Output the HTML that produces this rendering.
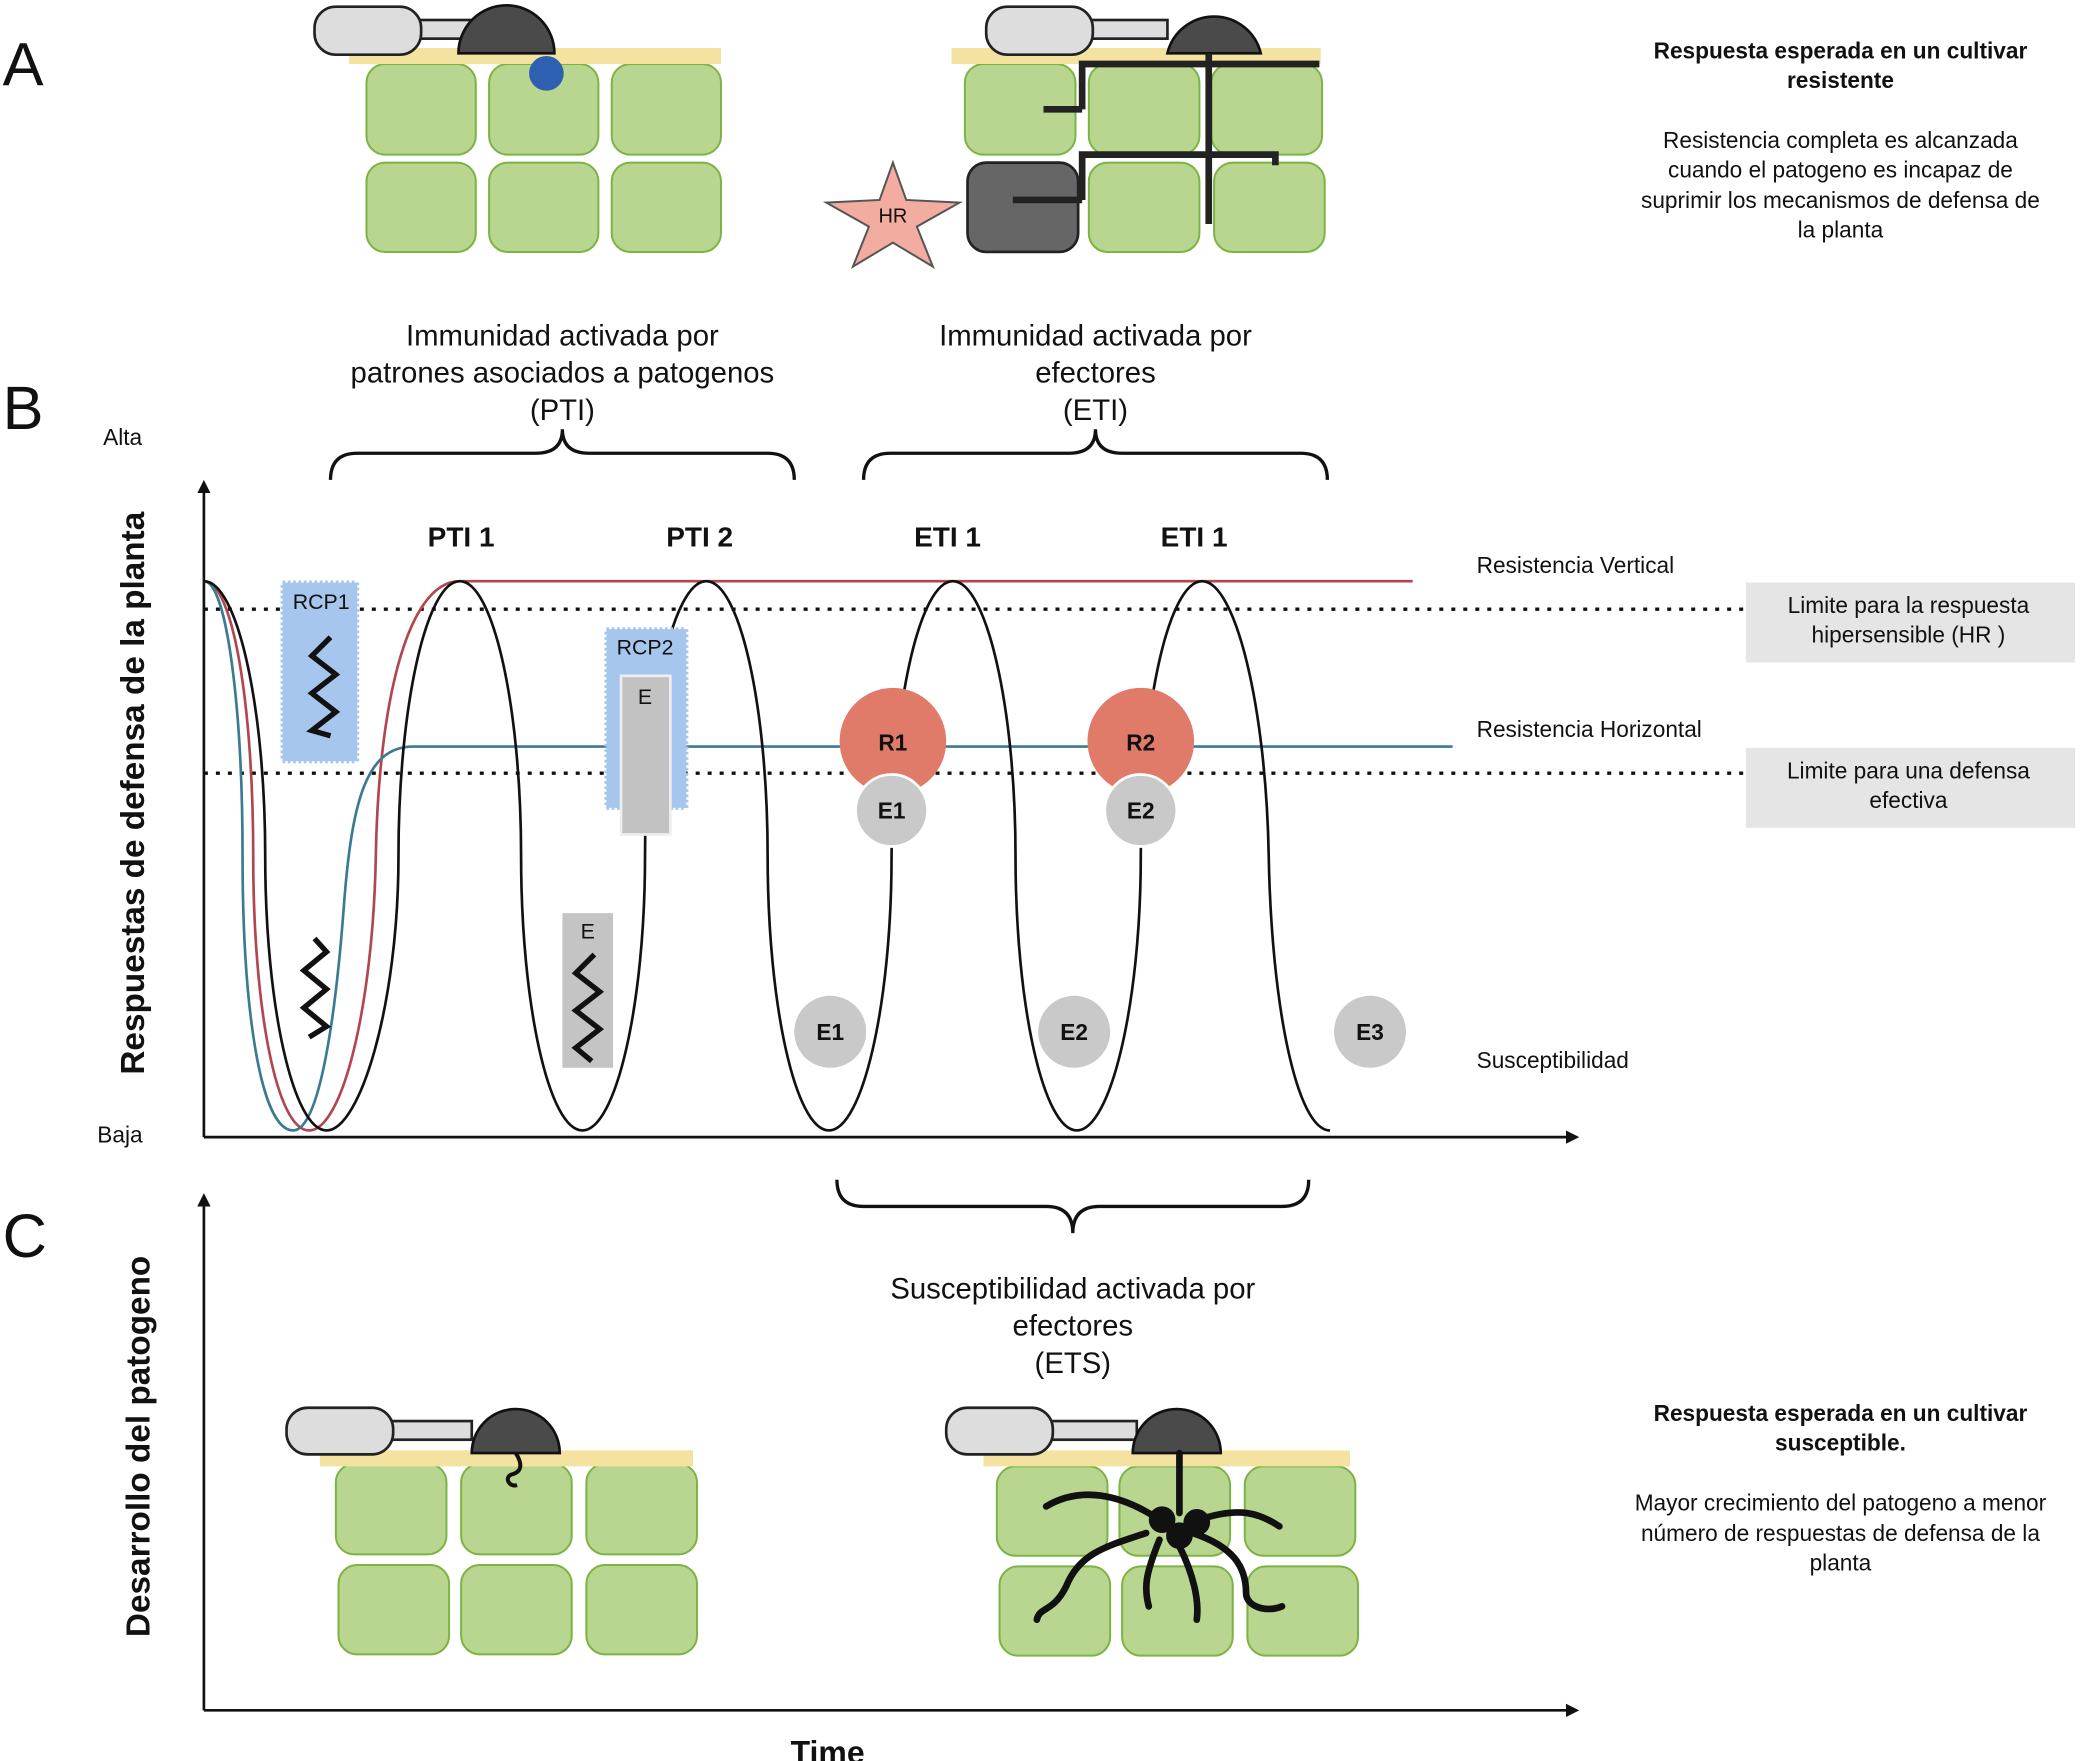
<!DOCTYPE html>
<html><head><meta charset="utf-8"><style>
html,body{margin:0;padding:0;background:#fff;width:2083px;height:1761px;overflow:hidden}
svg{display:block}
text{font-family:"Liberation Sans Narrow","Liberation Sans",sans-serif;fill:#111}
.b{font-weight:bold}
.w{font-family:"Liberation Sans",sans-serif}
</style></head><body>
<svg width="2083" height="1761" viewBox="0 0 1563 1321" preserveAspectRatio="none" xmlns="http://www.w3.org/2000/svg">
<defs>
<marker id="ar" markerWidth="10" markerHeight="10" refX="8" refY="5" orient="auto" markerUnits="userSpaceOnUse"><path d="M0,0 L10,5 L0,10 z" fill="#111"/></marker>
</defs>

<text x="2" y="64" class="w" font-size="46">A</text>
<text x="2" y="322" class="w" font-size="46">B</text>
<text x="2" y="943" class="w" font-size="46">C</text>

<!-- ===== A left ===== -->
<g stroke="#7cb342" stroke-width="1.5" fill="#b8d690">
<rect x="275" y="48" width="82" height="68" rx="14"/><rect x="367" y="48" width="82" height="68" rx="14"/><rect x="459" y="48" width="82" height="68" rx="14"/>
<rect x="275" y="122" width="82" height="67" rx="14"/><rect x="367" y="122" width="82" height="67" rx="14"/><rect x="459" y="122" width="82" height="67" rx="14"/>
</g>
<rect x="262" y="36" width="279" height="12" fill="#f3e2a0"/>
<rect x="300" y="15" width="60" height="14" fill="#ddd" stroke="#222" stroke-width="2"/>
<rect x="236" y="5" width="80" height="36" rx="16" fill="#ddd" stroke="#222" stroke-width="2"/>
<path d="M344 40 A36 36 0 0 1 416 40 Z" fill="#4a4a4a" stroke="#111" stroke-width="2"/>
<ellipse cx="410" cy="55" rx="13" ry="13" fill="#2e5fb0"/>

<!-- ===== A right ===== -->
<g stroke="#7cb342" stroke-width="1.5" fill="#b8d690">
<rect x="724" y="48" width="83" height="68" rx="14"/><rect x="817" y="48" width="83" height="68" rx="14"/><rect x="909" y="48" width="83" height="68" rx="14"/>
<rect x="817" y="122" width="83" height="67" rx="14"/><rect x="911" y="122" width="83" height="67" rx="14"/>
</g>
<rect x="726" y="122" width="83" height="67" rx="14" fill="#666" stroke="#222" stroke-width="2"/>
<rect x="714" y="36" width="277" height="12" fill="#f3e2a0"/>
<rect x="800" y="15" width="76" height="14" fill="#ddd" stroke="#222" stroke-width="2"/>
<rect x="740" y="5" width="80" height="36" rx="16" fill="#ddd" stroke="#222" stroke-width="2"/>
<path d="M876 40 A36 36 0 0 1 946 40 Z" fill="#4a4a4a" stroke="#111" stroke-width="2"/>
<g stroke="#222" stroke-width="5" fill="none">
<path d="M907 40 V168"/><path d="M812 82 V48 H990"/><path d="M783 82 H812"/>
<path d="M812 150 V116 H957 V124"/><path d="M760 150 H812"/>
</g>
<polygon points="670,122 680,150 720,152 688,170 700,200 670,182 640,200 652,170 620,152 660,150" fill="#f2aca0" stroke="#555" stroke-width="1.5"/>
<text x="670" y="167" font-size="15" text-anchor="middle" fill="#555">HR</text>

<g text-anchor="middle" font-size="17">
<text x="1381" y="44" class="b">Respuesta esperada en un cultivar</text>
<text x="1381" y="66" class="b">resistente</text>
<text x="1381" y="111">Resistencia completa es alcanzada</text>
<text x="1381" y="133">cuando el patogeno es incapaz de</text>
<text x="1381" y="156">suprimir los mecanismos de defensa de</text>
<text x="1381" y="178">la planta</text>
</g>

<!-- ===== B headings ===== -->
<g text-anchor="middle" font-size="22">
<text x="422" y="259">Immunidad activada por</text>
<text x="422" y="287">patrones asociados a patogenos</text>
<text x="422" y="315">(PTI)</text>
<text x="822" y="259">Immunidad activada por</text>
<text x="822" y="287">efectores</text>
<text x="822" y="315">(ETI)</text>
<text x="805" y="974">Susceptibilidad activada por</text>
<text x="805" y="1002">efectores</text>
<text x="805" y="1030">(ETS)</text>
</g>
<g fill="none" stroke="#111" stroke-width="2.5">
<path d="M248 360 Q248 340 268 340 H402 Q422 340 422 322 Q422 340 442 340 H576 Q596 340 596 360"/>
<path d="M648 360 Q648 340 668 340 H802 Q822 340 822 322 Q822 340 842 340 H976 Q996 340 996 360"/>
<path d="M628 885 Q628 905 648 905 H785 Q805 905 805 925 Q805 905 825 905 H962 Q982 905 982 885"/>
</g>

<text x="92" y="334" font-size="17" text-anchor="middle">Alta</text>
<text x="90" y="857" font-size="17" text-anchor="middle">Baja</text>
<text transform="translate(108,595) rotate(-90)" text-anchor="middle" font-size="25" class="b w">Respuestas de defensa de la planta</text>

<g stroke="#111" stroke-width="2" fill="none">
<path d="M153 853 V362" marker-end="url(#ar)"/>
<path d="M153 853 H1183" marker-end="url(#ar)"/>
<path d="M153 1283 V897" marker-end="url(#ar)"/>
<path d="M153 1283 H1183" marker-end="url(#ar)"/>
</g>

<g stroke="#111" stroke-width="2.5" stroke-dasharray="3 6">
<line x1="153" y1="457" x2="1310" y2="457"/>
<line x1="153" y1="580" x2="1310" y2="580"/>
</g>
<rect x="1310" y="437" width="247" height="60" fill="#e5e5e5"/>
<rect x="1310" y="561" width="247" height="60" fill="#e5e5e5"/>
<g text-anchor="middle" font-size="17" fill="#333">
<text x="1432" y="460">Limite para la respuesta</text>
<text x="1432" y="482">hipersensible (HR )</text>
<text x="1432" y="584">Limite para una defensa</text>
<text x="1432" y="606">efectiva</text>
</g>
<g font-size="17">
<text x="1108" y="430">Resistencia Vertical</text>
<text x="1108" y="553">Resistencia Horizontal</text>
<text x="1108" y="801">Susceptibilidad</text>
</g>

<!-- red & blue lines -->
<path d="M153 436 C175 436 190 530 190 642 C190 754 207 848 232 848 C257 848 280 754 282 642 C284 530 305 436 345 436 H1060" fill="none" stroke="#b0474f" stroke-width="2"/>
<path d="M153 436 C170 436 182 530 182 642 C182 754 195 848 220 848 C240 848 252 760 258 680 C264 600 275 560 310 560 H1090" fill="none" stroke="#3a7a92" stroke-width="2"/>

<path fill="none" stroke="#111" stroke-width="2"
d="M153 436 C178 436 199 530 199 642 C199 754 220 848 245 848
C270 848 299 754 299 642 C299 530 320 436 345 436
C370 436 391 530 391 642 C391 754 412 848 437 848
C462 848 484 754 484 642 C484 530 505 436 530 436
C555 436 576 530 576 642 C576 754 597 848 622 848
C647 848 669 754 669 642 C669 530 690 436 715 436
C740 436 762 530 762 642 C762 754 783 848 808 848
C833 848 856 754 856 642 C856 530 877 436 902 436
C927 436 950 530 952 642 C954 754 973 848 998 848"/>

<g font-size="21" class="b" text-anchor="middle">
<text x="346" y="410">PTI 1</text><text x="525" y="410">PTI 2</text>
<text x="711" y="410">ETI 1</text><text x="896" y="410">ETI 1</text>
</g>

<rect x="212" y="437" width="56" height="134" fill="#a7c6ee" stroke="#a7c6ee" stroke-width="3" stroke-dasharray="2 2"/>
<text x="241" y="457" font-size="16" text-anchor="middle" fill="#333">RCP1</text>
<path d="M248 478 L234 492 L252 506 L234 520 L252 534 L234 548 L248 552" fill="none" stroke="#111" stroke-width="4"/>
<path d="M236 704 L245 714 L228 728 L245 742 L228 756 L245 770 L232 778" fill="none" stroke="#111" stroke-width="4"/>
<rect x="455" y="472" width="60" height="134" fill="#a7c6ee" stroke="#a7c6ee" stroke-width="3" stroke-dasharray="2 2"/>
<text x="484" y="491" font-size="16" text-anchor="middle" fill="#333">RCP2</text>
<rect x="466" y="507" width="37" height="119" fill="#c2c2c2" stroke="#eee" stroke-width="2"/>
<text x="484" y="528" font-size="16" text-anchor="middle" fill="#333">E</text>
<rect x="422" y="685" width="38" height="116" fill="#c4c4c4"/>
<text x="441" y="704" font-size="16" text-anchor="middle" fill="#333">E</text>
<path d="M446 716 L432 730 L450 744 L432 758 L450 772 L432 786 L444 796" fill="none" stroke="#111" stroke-width="4"/>

<circle cx="670" cy="556" r="40" fill="#e07b6a"/>
<circle cx="856" cy="556" r="40" fill="#e07b6a"/>
<circle cx="669" cy="608" r="27" fill="#c9c9c9" stroke="#fff" stroke-width="2"/>
<circle cx="856" cy="608" r="27" fill="#c9c9c9" stroke="#fff" stroke-width="2"/>
<circle cx="623" cy="774" r="27" fill="#c9c9c9"/>
<circle cx="806" cy="774" r="27" fill="#c9c9c9"/>
<circle cx="1028" cy="774" r="27" fill="#c9c9c9"/>
<g font-size="17" class="b" text-anchor="middle" fill="#222">
<text x="670" y="563">R1</text><text x="856" y="563">R2</text>
<text x="669" y="614">E1</text><text x="856" y="614">E2</text>
<text x="623" y="780">E1</text><text x="806" y="780">E2</text><text x="1028" y="780">E3</text>
</g>

<!-- ===== C ===== -->
<text transform="translate(112,1085) rotate(-90)" text-anchor="middle" font-size="25" class="b w">Desarrollo del patogeno</text>
<text x="621" y="1323" text-anchor="middle" font-size="24" class="b w">Time</text>

<g stroke="#7cb342" stroke-width="1.5" fill="#b8d690">
<rect x="252" y="1098" width="83" height="68" rx="14"/><rect x="346" y="1098" width="83" height="68" rx="14"/><rect x="440" y="1098" width="83" height="68" rx="14"/>
<rect x="254" y="1174" width="83" height="67" rx="14"/><rect x="346" y="1174" width="83" height="67" rx="14"/><rect x="440" y="1174" width="83" height="67" rx="14"/>
<rect x="748" y="1100" width="83" height="67" rx="14"/><rect x="840" y="1100" width="83" height="67" rx="14"/><rect x="934" y="1100" width="83" height="67" rx="14"/>
<rect x="750" y="1175" width="83" height="67" rx="14"/><rect x="842" y="1175" width="83" height="67" rx="14"/><rect x="936" y="1175" width="83" height="67" rx="14"/>
</g>
<rect x="240" y="1088" width="280" height="12" fill="#f3e2a0"/>
<rect x="738" y="1088" width="275" height="12" fill="#f3e2a0"/>
<rect x="280" y="1066" width="74" height="14" fill="#ddd" stroke="#222" stroke-width="2"/>
<rect x="215" y="1056" width="80" height="35" rx="16" fill="#ddd" stroke="#222" stroke-width="2"/>
<path d="M354 1090 A33 33 0 0 1 420 1090 Z" fill="#4a4a4a" stroke="#111" stroke-width="2"/>
<path d="M387 1090 C392 1098 392 1104 384 1106 C378 1108 382 1116 388 1114" fill="none" stroke="#111" stroke-width="3"/>
<rect x="775" y="1066" width="78" height="14" fill="#ddd" stroke="#222" stroke-width="2"/>
<rect x="710" y="1056" width="80" height="35" rx="16" fill="#ddd" stroke="#222" stroke-width="2"/>
<path d="M850 1090 A33 33 0 0 1 916 1090 Z" fill="#4a4a4a" stroke="#111" stroke-width="2"/>
<g fill="none" stroke="#111" stroke-width="5" stroke-linecap="round">
<path d="M885 1090 V1135"/>
<path d="M870 1140 C840 1120 810 1115 785 1130"/>
<path d="M860 1150 C830 1160 810 1165 800 1190 C790 1210 780 1205 778 1215"/>
<path d="M870 1155 C860 1180 858 1190 862 1205"/>
<path d="M895 1150 C925 1160 935 1175 935 1195 C935 1205 950 1210 962 1205"/>
<path d="M900 1140 C930 1130 945 1135 960 1145"/>
<path d="M885 1160 C895 1180 900 1200 898 1215"/>
</g>
<g fill="#111"><circle cx="872" cy="1140" r="10"/><circle cx="898" cy="1142" r="10"/><circle cx="885" cy="1152" r="10"/></g>

<g text-anchor="middle" font-size="17">
<text x="1381" y="1066" class="b">Respuesta esperada en un cultivar</text>
<text x="1381" y="1088" class="b">susceptible.</text>
<text x="1381" y="1133">Mayor crecimiento del patogeno a menor</text>
<text x="1381" y="1156">número de respuestas de defensa de la</text>
<text x="1381" y="1178">planta</text>
</g>
</svg>
</body></html>
